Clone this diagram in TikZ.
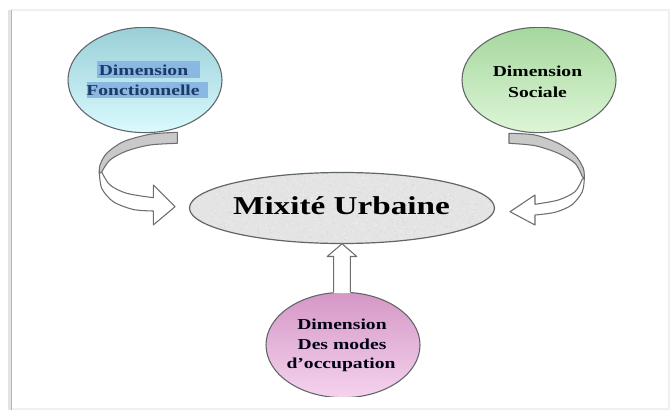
\documentclass[tikz,border=0pt]{standalone}
\usepackage{fontspec}
\usepackage{graphicx}
\setmainfont{Liberation Serif}
\usetikzlibrary{shapes.geometric,calc}

\definecolor{edgegray}{HTML}{5E6666}
\definecolor{arrgray}{HTML}{6E6E6E}
\definecolor{frontgray}{HTML}{C9C9C9}
\definecolor{hlblue}{HTML}{8BB8E3}
\definecolor{navy}{HTML}{1B3A66}
\definecolor{cyantop}{HTML}{9ACFD8}
\definecolor{cyanbot}{HTML}{DAFAFE}
\definecolor{greentop}{HTML}{A6D79E}
\definecolor{greenbot}{HTML}{DDF6D6}
\definecolor{pinktop}{HTML}{D597C6}
\definecolor{pinkbot}{HTML}{F5D3EE}
\definecolor{granite}{HTML}{E4E4E4}

% horizontally widened text
\newcommand\widetext[1]{\scalebox{1.29}[1]{#1}}

\begin{document}
\begin{tikzpicture}[x=0.75pt,y=-0.75pt,
  dimcircle/.style={ellipse, draw=edgegray, line width=0.8pt,
    minimum width=115.5pt, minimum height=79pt, inner sep=0pt},
  smalltxt/.style={anchor=base, inner sep=0pt,
    font=\fontsize{11.4}{14}\selectfont\bfseries},
  bigtxt/.style={anchor=base, inner sep=0pt,
    font=\fontsize{19.3}{22}\selectfont\bfseries},
  frontface/.style={draw=arrgray, fill=frontgray, line width=0.8pt, line join=round},
  backface/.style={draw=arrgray, fill=white, line width=0.8pt, line join=round},
]
\useasboundingbox (0,0) rectangle (670,410);

% page frame with a soft left shadow
\draw[gray!12, line width=1.2pt] (11,10) -- (669,10) -- (669,409) -- (11,409);
\draw[gray!22, line width=2.2pt] (9.3,10) -- (9.3,410);
\draw[gray!55, line width=1.1pt] (11.5,10) -- (11.5,410);

\begin{scope}
\clip (13,28) rectangle (668,396);

% central ellipse with a granite speckle
\node[ellipse, fill=granite, minimum width=228.75pt, minimum height=53.25pt,
      inner sep=0pt] (mix) at (342,208) {};
\begin{scope}
  \clip (342,208) ellipse [x radius=152, y radius=35.5];
  \pgfmathsetseed{7}
  \foreach \i in {1,...,700}{
    \fill[gray!32] ({342+152*rand},{208+36*rand}) circle (0.55);
    \fill[white!90!gray] ({342+152*rand},{208+36*rand}) circle (0.6);
  }
\end{scope}
\node[ellipse, draw=edgegray, line width=0.9pt, minimum width=228.75pt,
      minimum height=53.25pt, inner sep=0pt] at (mix) {};
\node[bigtxt] (mixlbl) at (341.5,214) {\widetext{Mixité Urbaine}};

% the three dimensions
\node[dimcircle, top color=cyantop, bottom color=cyanbot] (fonc) at (145,80) {};
\node[dimcircle, top color=greentop, bottom color=greenbot] (soc) at (539,80) {};
\node[dimcircle, top color=pinktop, bottom color=pinkbot] (occ) at (343,345) {};

% highlighted label of the functional dimension
\fill[hlblue] (97,61) rectangle (200,78);
\fill[hlblue] (87,82) rectangle (208,97.5);
\node[smalltxt, text=navy] (fonc1) at (143.5,75) {\widetext{Dimension}};
\node[smalltxt, text=navy] (fonc2) at (143,95) {\widetext{Fonctionnelle}};

\node[smalltxt] (soc1) at (537.5,76) {\widetext{Dimension}};
\node[smalltxt] (soc2) at (537.5,97) {\widetext{Sociale}};

\node[smalltxt, text=black!90!blue] (occ1) at (342,329) {\widetext{Dimension}};
\node[smalltxt, text=black!90!blue] (occ2) at (342,349.5) {\widetext{Des modes}};
\node[smalltxt, text=black!90!blue] (occ3) at (341,368.5) {\widetext{d’occupation}};

% straight arrow from the bottom dimension up to the centre
\coordinate (tip) at (mix.south);
\coordinate (foot) at (occ.north);
\coordinate (sr) at ($(tip)+(8.3,12.7)$);
\coordinate (sl) at ($(tip)+(-8.3,12.7)$);
\fill[white] (tip) -- ($(tip)+(14.8,12.7)$) -- (sr) -- ([yshift=-1pt]sr |- foot)
  -- ([yshift=-1pt]sl |- foot) -- (sl) -- ($(tip)+(-14.8,12.7)$) -- cycle;
\draw[arrgray, line width=0.8pt, line join=round]
  (sl |- foot) -- (sl) -- ($(tip)+(-14.8,12.7)$) -- (tip)
  -- ($(tip)+(14.8,12.7)$) -- (sr) -- (sr |- foot);

% curved arrow from the functional dimension
\draw[backface]
  plot[smooth] coordinates {(99.3,172) (101.7,188.3) (113.3,201.7) (133.3,209.5) (153.3,211)}
  -- (153.3,225) -- (175,206.7) -- (153.3,185) -- (153.3,197.7)
  -- plot[smooth] coordinates {(153.3,197.7) (126.7,193.3) (110,185) (101.7,172)}
  -- cycle;
\draw[frontface]
  plot[smooth] coordinates {(177.3,132.3) (150,134.3) (123.3,141.7) (106.7,153.3) (100,165) (99.3,173.5)}
  -- plot[smooth] coordinates {(101.7,172) (110,160) (126.7,151) (150,145) (177.3,143.3)}
  -- cycle;

% curved arrow from the social dimension
\draw[backface]
  plot[smooth] coordinates {(584.3,178.3) (582.3,191.7) (571.7,205) (555,212.3) (535,215)}
  -- (535,225) -- (510,211.7) -- (535,195) -- (535,204.3)
  -- plot[smooth] coordinates {(535,204.3) (558.3,200) (575,191.7) (582.3,179)}
  -- cycle;
\draw[frontface]
  plot[smooth] coordinates {(509,133.3) (535,135) (558.3,143.3) (575,155) (583.3,168.3) (584.3,178.3)}
  -- plot[smooth] coordinates {(582.3,176.7) (575,163.3) (558.3,153.3) (535,145.7) (509,143.3)}
  -- cycle;
\end{scope}
\end{tikzpicture}
\end{document}
